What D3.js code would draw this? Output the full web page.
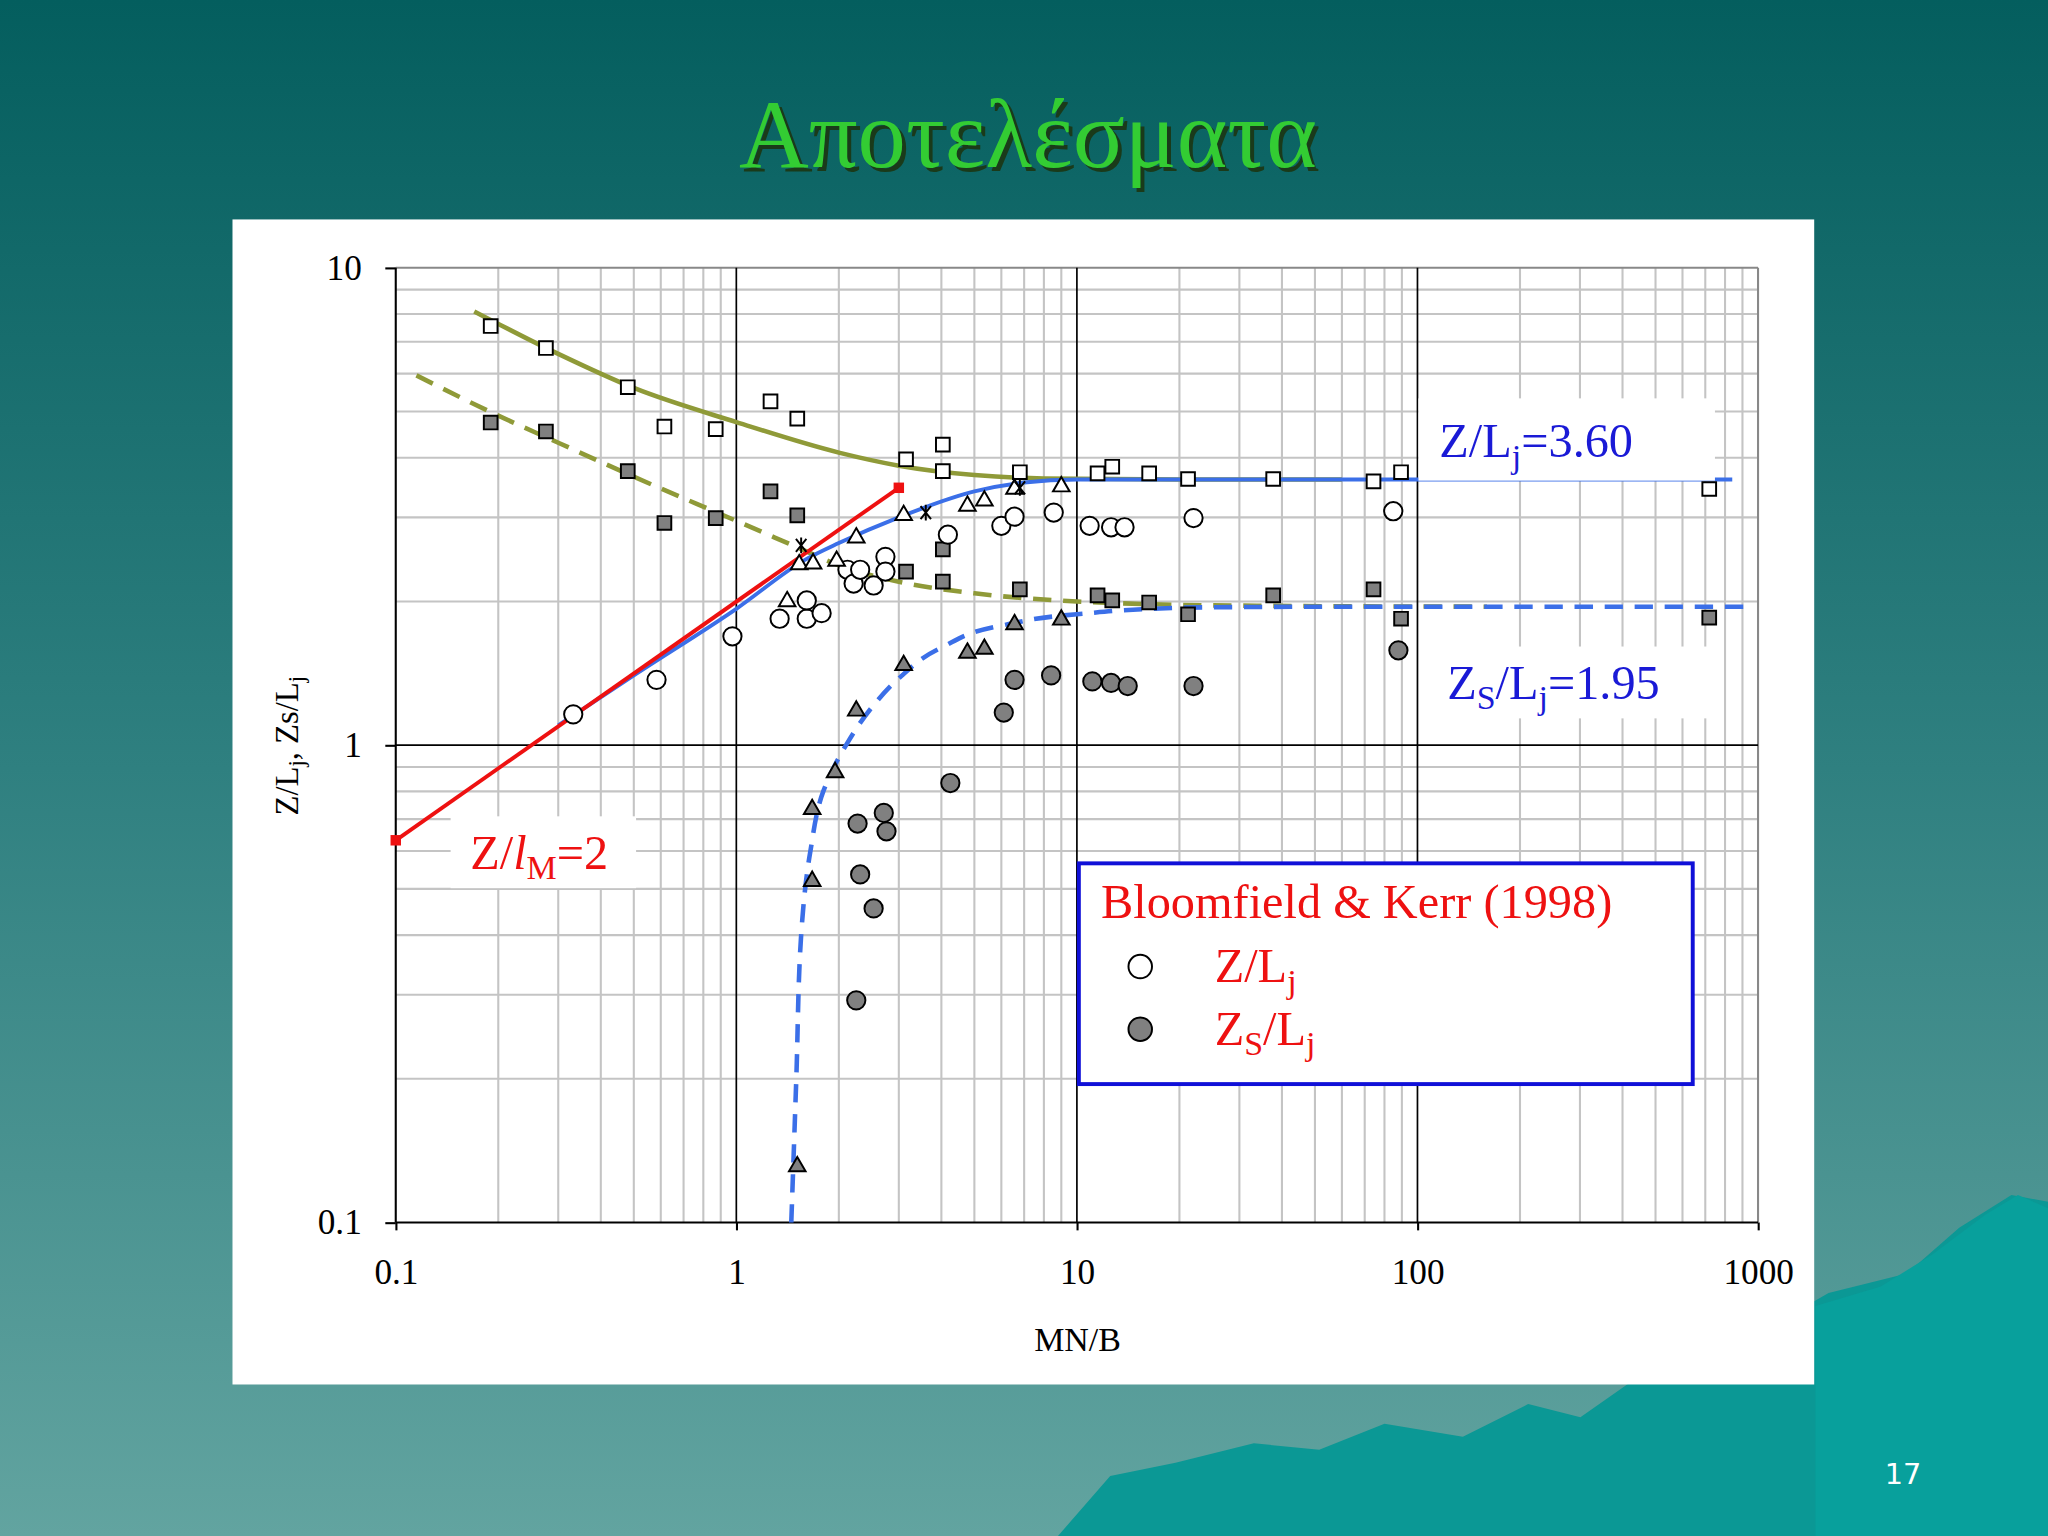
<!DOCTYPE html>
<html><head><meta charset="utf-8">
<script src="https://cdn.jsdelivr.net/npm/d3@7"></script>
<style>body{margin:0;overflow:hidden}</style>
</head><body>
<script>
// data: [MN/B, Z/Lj]
var openSquares = [[0.19,7.55],[0.276,6.79],[0.48,5.62],[0.615,4.65],[0.87,4.59],[1.26,5.25],[1.51,4.83],[3.15,3.97],[4.04,4.26],[4.04,3.75],[6.8,3.73],[11.5,3.71],[12.7,3.83],[16.3,3.71],[21.2,3.61],[37.7,3.61],[74.3,3.57],[89.5,3.73],[719,3.44]];
var filledSquares = [[0.19,4.74],[0.276,4.54],[0.48,3.75],[0.615,2.92],[0.87,2.99],[1.26,3.40],[1.51,3.03],[3.15,2.31],[4.04,2.57],[4.04,2.20],[6.8,2.12],[11.5,2.06],[12.7,2.01],[16.3,1.99],[21.2,1.88],[37.7,2.06],[74.3,2.12],[89.5,1.84],[719,1.85]];
var openCircles = [[0.332,1.16],[0.583,1.37],[0.974,1.69],[1.34,1.84],[1.61,1.84],[1.61,2.01],[1.78,1.89],[2.12,2.33],[2.21,2.18],[2.31,2.33],[2.53,2.16],[2.74,2.48],[2.74,2.31],[4.18,2.76],[6.0,2.88],[6.56,3.01],[8.55,3.07],[10.9,2.88],[12.6,2.86],[13.8,2.86],[22,2.99],[84.9,3.09]];
var filledCircles = [[6.1,1.17],[6.56,1.37],[8.4,1.40],[11.1,1.36],[12.6,1.35],[14.1,1.33],[22,1.33],[4.25,0.833],[2.27,0.685],[2.71,0.721],[2.76,0.66],[2.31,0.536],[2.53,0.455],[2.25,0.292],[87.9,1.58]];
var openTriangles = [[1.41,2.0],[1.53,2.39],[1.68,2.40],[1.97,2.43],[2.25,2.72],[3.1,3.03],[4.77,3.17],[5.35,3.25],[6.56,3.44],[9.0,3.48]];
var filledTriangles = [[1.51,0.131],[1.67,0.519],[1.67,0.734],[1.95,0.877],[2.25,1.18],[3.1,1.47],[4.77,1.56],[5.35,1.59],[6.56,1.79],[9.0,1.83]];
var asterisks = [[1.55,2.62],[3.6,3.07],[6.8,3.46]];
var oliveSolid = [[0.17,8.1],[0.3,6.6],[0.5,5.6],[1,4.75],[2,4.1],[3,3.85],[5,3.68],[8,3.62],[20,3.6],[60,3.6]];
var oliveDashed = [[0.115,5.95],[0.2,4.9],[0.3,4.3],[0.5,3.65],[1,2.95],[1.6,2.55],[2,2.38],[3,2.2],[5,2.08],[10,2.0],[30,1.96],[160,1.95]];
var blueSolid = [[0.3,1.1],[0.5,1.4],[1,1.93],[1.6,2.45],[2,2.65],[3,3.0],[5,3.4],[7,3.55],[10,3.6],[840,3.6]];
var blueDashed = [[1.45,0.1],[1.5,0.2],[1.55,0.4],[1.65,0.6],[1.8,0.8],[2.1,1.0],[2.5,1.2],[3,1.38],[4,1.6],[6,1.78],[10,1.88],[20,1.94],[50,1.95],[950,1.95]];
var redLine = [[0.1,0.632],[3,3.46]];
var xTicks = [0.1,1,10,100,1000];
var yTicks = [0.1,1,10];

var svg = d3.select('body').append('svg')
  .attr('width',2048).attr('height',1536)
  .attr('viewBox','0 0 1568 1176');

var defs = svg.append('defs');
var g1 = defs.append('linearGradient').attr('id','bg').attr('x1',0).attr('y1',0).attr('x2',0).attr('y2',1);
g1.append('stop').attr('offset','0').attr('stop-color','#045e5e');
g1.append('stop').attr('offset','0.5').attr('stop-color','#2f8080');
g1.append('stop').attr('offset','1').attr('stop-color','#62a4a0');
svg.append('rect').attr('width',1568).attr('height',1176).attr('fill','url(#bg)');
// mountains
svg.append('path').attr('fill','#0b9895')
  .attr('d','M810,1176 L850,1130 L900,1120 L960,1105 L1010,1110 L1060,1090 L1120,1100 L1170,1075 L1210,1085 L1260,1050 L1330,1030 L1400,990 L1460,975 L1500,940 L1540,915 L1568,920 L1568,1176 Z');
svg.append('path').attr('fill','#08a09c')
  .attr('d','M1390,1000 L1440,985 L1480,960 L1520,930 L1545,915 L1568,925 L1568,1176 L1390,1176 Z');

// title
svg.append('text').attr('x',787).attr('y',128).attr('text-anchor','middle')
  .attr('font-family','Liberation Serif').attr('font-size',74).attr('fill','#1a3a1a')
  .attr('transform','translate(3,3)').text('Αποτελέσματα');
svg.append('text').attr('x',787).attr('y',128).attr('text-anchor','middle')
  .attr('font-family','Liberation Serif').attr('font-size',74).attr('fill','#33cc33').text('Αποτελέσματα');
svg.append('text').attr('x',1457).attr('y',1136).attr('text-anchor','middle')
  .attr('font-family','DejaVu Sans').attr('font-size',22).attr('fill','#ffffff').text('17');

// panel
svg.append('rect').attr('x',178).attr('y',168).attr('width',1211).attr('height',892).attr('fill','#fff');

var x = d3.scaleLog().domain([0.1,1000]).range([303,1346]);
var y = d3.scaleLog().domain([0.1,10]).range([936,205]);

var minorX = [], minorY = [];
[0.1,1,10,100].forEach(function(d){ for(var k=2;k<10;k++) minorX.push(d*k); });
[0.1,1].forEach(function(d){ for(var k=2;k<10;k++) minorY.push(d*k); });
var grid = svg.append('g');
grid.selectAll('.mx').data(minorX).enter().append('line')
  .attr('x1',x).attr('x2',x).attr('y1',205).attr('y2',936).attr('stroke','#c4c4c4').attr('stroke-width',1.6);
grid.selectAll('.my').data(minorY).enter().append('line')
  .attr('y1',y).attr('y2',y).attr('x1',303).attr('x2',1346).attr('stroke','#c4c4c4').attr('stroke-width',1.6);
grid.append('line').attr('x1',303).attr('x2',1346).attr('y1',205).attr('y2',205).attr('stroke','#888').attr('stroke-width',1.6);
grid.append('line').attr('x1',1346).attr('x2',1346).attr('y1',205).attr('y2',936).attr('stroke','#888').attr('stroke-width',1.6);
grid.selectAll('.Mx').data([1,10,100]).enter().append('line')
  .attr('x1',x).attr('x2',x).attr('y1',205).attr('y2',936).attr('stroke','#000').attr('stroke-width',1.3);
grid.append('line').attr('x1',303).attr('x2',1346).attr('y1',y(1)).attr('y2',y(1)).attr('stroke','#000').attr('stroke-width',1.3);

var xAxis = svg.append('g').attr('transform','translate(0,936)')
  .call(d3.axisBottom(x).tickValues(xTicks).tickFormat(d3.format('')).tickSize(6).tickPadding(22));
var yAxis = svg.append('g').attr('transform','translate(303,0)')
  .call(d3.axisLeft(y).tickValues(yTicks).tickFormat(d3.format('')).tickSize(8).tickPadding(18));
[xAxis,yAxis].forEach(function(a){
  a.selectAll('text').attr('font-family','Liberation Serif').attr('font-size',27).attr('fill','#000');
  a.selectAll('path,line').attr('stroke','#000').attr('stroke-width',1.6);
});
yAxis.select('.domain').attr('d','M0,936V205');
xAxis.select('.domain').attr('d','M0,0H1043').attr('transform','translate(303,0)');

svg.append('text').attr('x',825).attr('y',1034).attr('text-anchor','middle')
  .attr('font-family','Liberation Serif').attr('font-size',26).text('MN/B');
var yt = svg.append('text').attr('transform','translate(228,571) rotate(-90)').attr('text-anchor','middle')
  .attr('font-family','Liberation Serif').attr('font-size',25);
yt.append('tspan').text('Z/L');
yt.append('tspan').attr('font-size',17).attr('dy',5).text('j');
yt.append('tspan').attr('dy',-5).text(', Zs/L');
yt.append('tspan').attr('font-size',17).attr('dy',5).text('j');

// curves
var line = d3.line().x(function(d){return x(d[0]);}).y(function(d){return y(d[1]);}).curve(d3.curveMonotoneX);
var lineY = d3.line().x(function(d){return x(d[0]);}).y(function(d){return y(d[1]);}).curve(d3.curveMonotoneY);
svg.append('path').datum(oliveSolid).attr('d',line).attr('fill','none').attr('stroke','#8f9a38').attr('stroke-width',3.5);
svg.append('path').datum(oliveDashed).attr('d',line).attr('fill','none').attr('stroke','#8f9a38').attr('stroke-width',3.5).attr('stroke-dasharray','14,9');
svg.append('path').datum(blueSolid).attr('d',line).attr('fill','none').attr('stroke','#3b6fe8').attr('stroke-width',3);
svg.append('path').datum(blueDashed).attr('d',lineY).attr('fill','none').attr('stroke','#3b6fe8').attr('stroke-width',3.5).attr('stroke-dasharray','14,9');
svg.append('path').datum(redLine).attr('d',line).attr('fill','none').attr('stroke','#ee1111').attr('stroke-width',3);
svg.selectAll('.rend').data(redLine).enter().append('rect')
  .attr('x',function(d){return x(d[0])-4;}).attr('y',function(d){return y(d[1])-4;})
  .attr('width',8).attr('height',8).attr('fill','#ee1111');

// markers
function markers(data, type, fill){
  var sym = d3.symbol().type(type).size(type===d3.symbolTriangle?70:110);
  svg.append('g').selectAll('path').data(data).enter().append('path')
    .attr('transform',function(d){return 'translate('+x(d[0])+','+y(d[1])+')';})
    .attr('d',sym).attr('fill',fill).attr('stroke','#000').attr('stroke-width',1.5);
}
markers(openSquares, d3.symbolSquare, '#fff');
markers(filledSquares, d3.symbolSquare, '#808080');
svg.append('g').selectAll('circle').data(openCircles).enter().append('circle')
  .attr('cx',function(d){return x(d[0]);}).attr('cy',function(d){return y(d[1]);}).attr('r',7)
  .attr('fill','#fff').attr('stroke','#000').attr('stroke-width',1.5);
svg.append('g').selectAll('circle').data(filledCircles).enter().append('circle')
  .attr('cx',function(d){return x(d[0]);}).attr('cy',function(d){return y(d[1]);}).attr('r',7)
  .attr('fill','#808080').attr('stroke','#000').attr('stroke-width',1.5);
markers(openTriangles, d3.symbolTriangle, '#fff');
markers(filledTriangles, d3.symbolTriangle, '#808080');
svg.append('g').selectAll('path').data(asterisks).enter().append('path')
  .attr('transform',function(d){return 'translate('+x(d[0])+','+y(d[1])+')';})
  .attr('d','M-4,-5L4,5M4,-5L-4,5M0,-6V6').attr('stroke','#000').attr('stroke-width',1.5);

// labels
function label(bx,by,bw,bh,tx,ty,parts,color){
  svg.append('rect').attr('x',bx).attr('y',by).attr('width',bw).attr('height',bh).attr('fill','#fff');
  var t = svg.append('text').attr('x',tx).attr('y',ty).attr('font-family','Liberation Serif').attr('font-size',37).attr('fill',color);
  parts.forEach(function(p){
    var s = t.append('tspan').text(p[0]);
    if(p[1]==='sub') s.attr('font-size',26).attr('dy',8);
    if(p[1]==='up') s.attr('dy',-8);
    if(p[2]) s.attr('font-style','italic');
  });
}
label(1086,305,227,63,1102,350,[['Z/L'],['j','sub'],['=3.60','up']],'#1a1ad6');
label(1098,495,212,55,1108,535,[['Z'],['S','sub'],['/L','up'],['j','sub'],['=1.95','up']],'#1a1ad6');
label(345,625,142,55,360,665,[['Z/'],['l','',true],['M','sub'],['=2','up']],'#ee1111');

// legend
svg.append('rect').attr('x',826).attr('y',661).attr('width',470).attr('height',169)
  .attr('fill','#fff').attr('stroke','#1010d8').attr('stroke-width',3);
svg.append('text').attr('x',843).attr('y',703).attr('font-family','Liberation Serif').attr('font-size',37).attr('fill','#ee1111').text('Bloomfield & Kerr (1998)');
svg.append('circle').attr('cx',873).attr('cy',740).attr('r',9).attr('fill','#fff').attr('stroke','#000').attr('stroke-width',1.5);
svg.append('circle').attr('cx',873).attr('cy',788).attr('r',9).attr('fill','#808080').attr('stroke','#000').attr('stroke-width',1.5);
var l1 = svg.append('text').attr('x',930).attr('y',752).attr('font-family','Liberation Serif').attr('font-size',37).attr('fill','#ee1111');
l1.append('tspan').text('Z/L'); l1.append('tspan').attr('font-size',26).attr('dy',8).text('j');
var l2 = svg.append('text').attr('x',930).attr('y',800).attr('font-family','Liberation Serif').attr('font-size',37).attr('fill','#ee1111');
l2.append('tspan').text('Z'); l2.append('tspan').attr('font-size',26).attr('dy',8).text('S');
l2.append('tspan').attr('dy',-8).text('/L'); l2.append('tspan').attr('font-size',26).attr('dy',8).text('j');
</script>
</body></html>
